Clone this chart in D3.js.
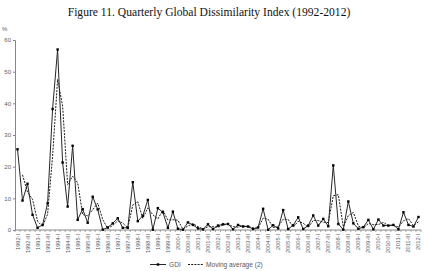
<!DOCTYPE html>
<html>
<head>
<meta charset="utf-8">
<script src="https://cdn.jsdelivr.net/npm/d3@7"></script>
<style>
    body { margin: 0; background: #fff; }
    svg { display: block; }
</style>
</head>
<body>
<div id="chart"></div>
<script>
// quarters 1992-I .. 2012-I
const years = d3.range(1992, 2013);
const quarterNames = ["I", "II", "III", "IV"];

const gdi = [
    25.5, 9.3, 14.6, 4.8, 0.7, 1.6, 8.4, 38.2, 57.0, 21.3,
    7.4, 26.6, 3.2, 6.6, 2.3, 10.5, 6.5, 0.1, 0.8, 2.1,
    3.7, 0.7, 0.7, 15.1, 2.8, 4.5, 9.5, 0.1, 6.9, 5.6,
    0.7, 5.8, 0.4, 0.1, 2.4, 1.6, 0.5, 0.2, 1.8, 0.3,
    1.4, 1.8, 1.9, 0.2, 1.6, 1.1, 1.1, 0.3, 0.8, 6.7,
    0.1, 1.5, 0.5, 6.3, 0.3, 1.5, 4.0, 0.3, 1.4, 4.6,
    1.4, 3.5, 1.2, 20.4, 1.9, 0.1, 9.0, 2.1, 0.4, 0.9,
    3.2, 0.2, 3.3, 1.4, 1.4, 1.6, 0.2, 5.6, 1.6, 1.1,
    4.1
];

// Moving average (2) as read, starts at 2nd quarter
const movingAvg = [
    null, 17.4, 11.95, 9.7, 2.75, 1.15, 5.0, 23.3, 47.6, 39.15,
    14.35, 17.0, 14.9, 4.9, 4.45, 6.4, 8.5, 3.3, 0.45, 1.45,
    2.9, 2.2, 0.7, 7.9, 8.95, 3.65, 7.0, 4.8, 3.5, 6.25,
    3.15, 3.25, 3.1, 0.25, 1.25, 2.0, 1.05, 0.35, 1.0, 1.05,
    0.85, 1.6, 1.85, 1.05, 0.9, 1.35, 1.1, 0.7, 0.55, 3.75,
    3.4, 0.8, 1.0, 3.4, 3.3, 0.9, 2.75, 2.15, 0.85, 3.0,
    3.0, 2.45, 2.35, 10.8, 11.15, 1.0, 4.55, 5.55, 1.25, 0.65,
    2.05, 1.7, 1.75, 2.35, 1.4, 1.5, 0.9, 2.9, 3.6, 1.35,
    2.6
];

const yTicks = [0, 10, 20, 30, 40, 50, 60];

let categories = [];
for (let y of years) {
    for (let q of quarterNames) {
        categories.push(`${y}-${q}`);
    }
}
categories = categories.slice(0, gdi.length);

const svgWidth = 424;
const svgHeight = 271;
const plotLeft = 15;
const plotRight = 421;
const plotTop = 40;
const plotBottom = 230;
const axisColor = "#868686";
const labelColor = "#595959";

const svg = d3.select("#chart")
    .append("svg")
    .attr("width", svgWidth)
    .attr("height", svgHeight);

svg.append("text")
    .attr("x", 209)
    .attr("y", 16)
    .attr("text-anchor", "middle")
    .attr("font-family", "Liberation Serif, Times New Roman, serif")
    .attr("font-size", "11.6px")
    .attr("fill", "#111")
    .text("Figure 11. Quarterly Global Dissimilarity Index (1992-2012)");

svg.append("text")
    .attr("x", 2)
    .attr("y", 31)
    .attr("font-family", "Liberation Sans, Arial, sans-serif")
    .attr("font-size", "6px")
    .attr("fill", labelColor)
    .text("%");

const xScale = d3.scaleBand()
    .domain(categories)
    .range([plotLeft, plotRight])
    .padding(0);

const yScale = d3.scaleLinear()
    .domain([0, 60])
    .range([plotBottom, plotTop]);

const cx = d => xScale(d) + xScale.bandwidth() / 2;

// y axis
const yAxisGroup = svg.append("g")
    .attr("transform", `translate(${plotLeft}, 0)`)
    .call(d3.axisLeft(yScale).tickValues(yTicks).tickSize(2).tickPadding(2));

yAxisGroup.select(".domain").attr("stroke", axisColor);
yAxisGroup.selectAll("line").attr("stroke", axisColor);
yAxisGroup.selectAll("text")
    .attr("fill", labelColor)
    .attr("font-size", "6px")
    .attr("font-family", "Liberation Sans, Arial, sans-serif");

// x axis: tick marks at every category boundary, labels every second quarter
const xAxisGroup = svg.append("g")
    .attr("transform", `translate(0, ${plotBottom})`);

xAxisGroup.append("line")
    .attr("x1", plotLeft).attr("x2", plotRight)
    .attr("stroke", axisColor);

xAxisGroup.selectAll(".qtick")
    .data(categories.concat(["end"]))
    .enter()
    .append("line")
    .attr("class", "qtick")
    .attr("x1", (d, i) => i < categories.length ? xScale(d) : plotRight)
    .attr("x2", (d, i) => i < categories.length ? xScale(d) : plotRight)
    .attr("y1", 0)
    .attr("y2", 2)
    .attr("stroke", axisColor)
    .attr("stroke-width", 0.7);

xAxisGroup.selectAll(".qlabel")
    .data(categories.filter((d, i) => i % 2 === 0))
    .enter()
    .append("text")
    .attr("class", "qlabel")
    .attr("transform", d => `translate(${cx(d) + 2}, 4) rotate(-90)`)
    .attr("text-anchor", "end")
    .attr("fill", labelColor)
    .attr("font-size", "5.6px")
    .attr("font-family", "Liberation Sans, Arial, sans-serif")
    .text(d => d);

// series
const gdiData = categories.map((c, i) => ({ c: c, v: gdi[i] }));
const maData = categories.map((c, i) => ({ c: c, v: movingAvg[i] }));

const line = d3.line()
    .defined(d => d.v !== null)
    .x(d => cx(d.c))
    .y(d => yScale(d.v));

svg.append("path")
    .datum(maData)
    .attr("fill", "none")
    .attr("stroke", "#000")
    .attr("stroke-width", 0.9)
    .attr("stroke-dasharray", "2,1.2")
    .attr("d", line);

svg.append("path")
    .datum(gdiData)
    .attr("fill", "none")
    .attr("stroke", "#262626")
    .attr("stroke-width", 1)
    .attr("d", line);

svg.selectAll(".marker")
    .data(gdiData)
    .enter()
    .append("rect")
    .attr("class", "marker")
    .attr("x", d => cx(d.c) - 1.2)
    .attr("y", d => yScale(d.v) - 1.2)
    .attr("width", 2.4)
    .attr("height", 2.4)
    .attr("fill", "#000");

// legend
const legend = svg.append("g")
    .attr("transform", "translate(150, 264.5)");

legend.append("line")
    .attr("x1", 0).attr("x2", 16)
    .attr("stroke", "#262626").attr("stroke-width", 1);
legend.append("rect")
    .attr("x", 6.8).attr("y", -1.2)
    .attr("width", 2.4).attr("height", 2.4)
    .attr("fill", "#000");
legend.append("text")
    .attr("x", 19).attr("y", 2.3)
    .attr("font-size", "6.6px")
    .attr("fill", labelColor)
    .attr("font-family", "Liberation Sans, Arial, sans-serif")
    .text("GDI");

legend.append("line")
    .attr("x1", 38).attr("x2", 54)
    .attr("stroke", "#000").attr("stroke-width", 0.9)
    .attr("stroke-dasharray", "2,1.2");
legend.append("text")
    .attr("x", 56).attr("y", 2.3)
    .attr("font-size", "6.6px")
    .attr("fill", labelColor)
    .attr("font-family", "Liberation Sans, Arial, sans-serif")
    .text("Moving average (2)");
</script>
</body>
</html>
